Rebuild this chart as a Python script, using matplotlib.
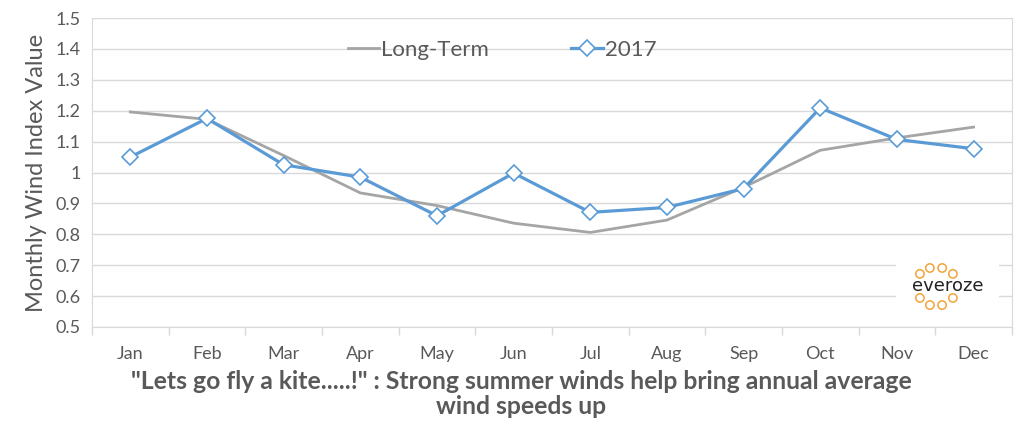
import numpy as np
import matplotlib.pyplot as plt

months = ['Jan', 'Feb', 'Mar', 'Apr', 'May', 'Jun', 'Jul', 'Aug', 'Sep', 'Oct', 'Nov', 'Dec']
long_term = [1.196, 1.172, 1.055, 0.934, 0.893, 0.836, 0.806, 0.846, 0.952, 1.072, 1.112, 1.147]
y2017 = [1.050, 1.175, 1.025, 0.985, 0.860, 0.998, 0.871, 0.887, 0.948, 1.209, 1.107, 1.077]
yticks = [0.5, 0.6, 0.7, 0.8, 0.9, 1.0, 1.1, 1.2, 1.3, 1.4, 1.5]
yticklabels = ['0.5', '0.6', '0.7', '0.8', '0.9', '1', '1.1', '1.2', '1.3', '1.4', '1.5']

plt.rcParams['font.family'] = ['Lato', 'DejaVu Sans']
txt = '#595959'
grid = '#d9d9d9'

fig = plt.figure(figsize=(10.24, 4.26), dpi=100)
ax = fig.add_axes([0.0898, 0.2324, 0.8984, 0.7253])

x = np.arange(len(months))
ax.plot(x, long_term, color='#a5a5a5', lw=2.0, label='Long-Term', zorder=3)
ax.plot(x, y2017, color='#5b9bd5', lw=2.3, marker='D', markersize=8,
        markerfacecolor='white', markeredgecolor='#5b9bd5', markeredgewidth=1.2,
        label='2017', zorder=4)

ax.set_xlim(-0.5, 11.5)
ax.set_ylim(0.5, 1.5)
ax.set_yticks(yticks)
ax.set_yticklabels(yticklabels)
ax.set_xticks(x)
ax.set_xticklabels(months)
ax.set_xticks(np.arange(-0.5, 12, 1), minor=True)
ax.tick_params(axis='x', which='major', length=0, pad=14, labelsize=13, labelcolor=txt)
ax.tick_params(axis='x', which='minor', length=6, color=grid, width=1)
ax.tick_params(axis='y', length=0, pad=8, labelsize=13, labelcolor=txt)
ax.yaxis.grid(True, color=grid, lw=1)
ax.set_axisbelow(True)
for s in ['left', 'right', 'bottom']:
    ax.spines[s].set_color(grid)
ax.spines['top'].set_visible(False)

ax.set_ylabel('Monthly Wind Index Value', fontsize=17, color=txt, labelpad=6)

leg = ax.legend(loc='upper center', bbox_to_anchor=(0.446, 0.995), ncol=2, frameon=False,
                fontsize=16, labelcolor=txt, columnspacing=3.7, handlelength=1.4,
                handletextpad=0.1)

# logo
ax.text(10.66, 0.633, 'everoze', ha='center', va='center',
        fontsize=13, color='#222222', fontfamily='DejaVu Sans',
        bbox=dict(facecolor='white', edgecolor='none', pad=11), zorder=5)
ax.scatter([10.30, 10.43, 10.59, 10.73, 10.30, 10.43, 10.59, 10.73],
           [0.672, 0.691, 0.691, 0.672, 0.594, 0.571, 0.571, 0.594],
           s=36, facecolors='none', edgecolors='#f0a43a', linewidths=1.1, zorder=6)

fig.text(0.509, 0.075, '"Lets go fly a kite.....!" : Strong summer winds help bring annual average\nwind speeds up',
         ha='center', va='center', fontsize=17.8, fontweight='bold', color=txt, linespacing=1.1)

fig.savefig('out.png', dpi=100)
